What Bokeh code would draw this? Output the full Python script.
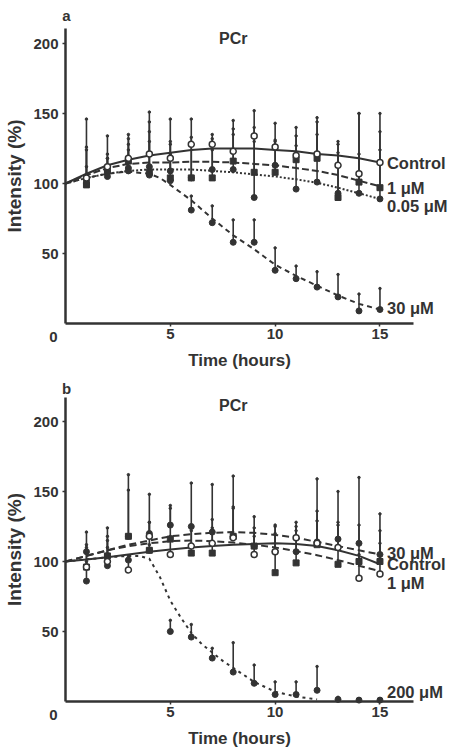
from bokeh.plotting import figure
from bokeh.models import Label, FixedTicker, Range1d, ColumnDataSource
from bokeh.layouts import column
from bokeh.embed import file_html
from bokeh.resources import INLINE

# ---------------- data ----------------
hours = [1, 2, 3, 4, 5, 6, 7, 8, 9, 10, 11, 12, 13, 14, 15]
fit_hours = [0, 1, 2, 3, 4, 5, 6, 7, 8, 9, 10, 11, 12, 13, 14, 15]

# panel a
a_ctrl = [104, 112, 118, 121, 118, 128, 128, 123, 134, 126, 120, 121, 113, 107, 115]
a_ctrl_top = [126, 121, 132, 137, 130, 146, 135, 139, 152, 131, 127, 144, 122, 150, 150]
a_ctrl_fit = [100, 107, 113, 117, 120, 122, 124, 125, 125, 125, 124, 123, 121, 120, 118, 115]

a_1um = [99, 110, 116, 108, 104, 104, 104, 116, 108, 108, 117, 118, 90, 101, 97]
a_1um_top = [146, 134, 128, 151, 146, 133, 132, 145, 140, 143, 140, 147, 130, 121, 137]
a_1um_fit = [100, 106, 111, 114, 115, 115, 115.5, 115.5, 115, 114, 113, 111, 109, 106, 102, 98]

a_005 = [102, 108, 111, 112, 109, 104, 110, 110, 90, 113, 96, 101, 93, 93, 89]
a_005_top = [124, 118, 135, 144, 128, 129, 124, 135, 130, 130, 134, 135, 128, 150, 124]
a_005_fit = [100, 104, 107, 109, 110, 110, 110, 109, 108, 106.5, 105, 103, 100.5, 97, 93, 89]

a_30 = [100, 105, 109, 106, 102, 81, 72, 58, 58, 38, 32, 26, 19, 9, 10]
a_30_top = [112, 118, 124, 130, 121, 91, 84, 74, 74, 54, 41, 37, 35, 21, 25]
a_30_fit_hours = [0, 1, 2, 3, 4, 4.5, 5, 6, 7, 8, 9, 10, 11, 12, 13, 14, 15]
a_30_fit = [100, 104, 107, 108.5, 107, 104, 99, 88, 75, 63, 53, 42, 34, 27, 20, 14, 10]

# panel b
b_30 = [107, 104, 118, 120, 126, 125, 121, 118, 111, 107, 107, 114, 116, 113, 105]
b_30_top = [121, 124, 162, 148, 140, 156, 155, 161, 132, 125, 128, 159, 150, 160, 134]
b_30_fit = [100, 104, 108, 112, 115, 118, 119.5, 120.5, 121, 120.5, 119, 117, 114, 111, 108, 105]

b_ctrl = [96, 104, 118, 108, 116, 106, 106, 118, 111, 92, 99, 112, 98, 100, 100]
b_ctrl_top = [112, 118, 151, 128, 138, 126, 130, 139, 124, 126, 122, 136, 128, 126, 122]
b_ctrl_fit = [100, 101.5, 103, 105, 107, 108.5, 110, 111, 112, 112.5, 113, 112.5, 111, 108, 104, 98]

b_1um = [96, 100, 94, 118, 105, 111, 113, 117, 105, 107, 117, 113, 110, 88, 91]
b_1um_top = [110, 115, 101, 128, 118, 122, 124, 138, 118, 120, 125, 129, 126, 105, 113]
b_1um_fit = [100, 104, 108, 111, 113, 114.5, 115, 114.5, 113.5, 112, 110, 107.5, 104.5, 101, 97, 93]

b_200 = [86, 97, 101, 108, 50, 46, 31, 21, 13, 5, 5, 8, 1.5, 1, 1]
b_200_top = [100, 110, 104, 112, 58, 55, 38, 42, 26, 14, 14, 25, 3, 2, 2]
b_200_fit_hours = [0, 1, 2, 3, 3.5, 4, 4.5, 5, 5.5, 6, 6.5, 7, 7.5, 8, 9, 10, 11, 12]
b_200_fit = [100, 101.5, 103, 104, 104, 102, 89, 72, 60, 49, 41, 35, 29, 24, 14, 7, 3.5, 1.5]

y_ticks = [50, 100, 150, 200]
x_ticks = [5, 10, 15]
x_axis_end = 16.6

INK = "#333333"
FONT = "Liberation Sans"

FIG_W = 450
ORIGIN_X = 65
PX_X = 348 / 16.6   # pixels per hour
PX_Y = 1.4          # pixels per percent


def make_panel(letter, height, origin_from_top, axis_top_px, xlabel_standoff, letter_dy, title_dy):
    # frame covers the whole canvas; axes are pinned to the data origin
    y_top = (origin_from_top - axis_top_px) / PX_Y
    p = figure(width=FIG_W, height=height, output_backend="svg", toolbar_location=None,
               x_range=Range1d(-ORIGIN_X / PX_X, (FIG_W - ORIGIN_X) / PX_X),
               y_range=Range1d(-(height - origin_from_top) / PX_Y, origin_from_top / PX_Y),
               min_border=0)
    p.outline_line_color = None
    p.grid.visible = False
    xa, ya = p.xaxis[0], p.yaxis[0]
    xa.fixed_location = 0
    ya.fixed_location = 0
    xa.bounds = (0, x_axis_end)
    ya.bounds = (0, y_top)
    for ax in (xa, ya):
        ax.axis_line_color = INK
        ax.axis_line_width = 2.5
        ax.major_tick_line_color = INK
        ax.major_tick_line_width = 1.5
        ax.major_tick_out = 3
        ax.major_tick_in = 0
        ax.minor_tick_line_color = None
        ax.major_label_text_font = FONT
        ax.major_label_text_font_size = "15px"
        ax.major_label_text_font_style = "bold"
        ax.major_label_text_color = INK
        ax.axis_label_text_font = FONT
        ax.axis_label_text_font_style = "bold"
        ax.axis_label_text_color = INK
    xa.ticker = FixedTicker(ticks=x_ticks)
    ya.ticker = FixedTicker(ticks=y_ticks)
    xa.major_label_standoff = 2
    ya.major_label_standoff = 4
    xa.axis_label = "Time (hours)"
    ya.axis_label = "Intensity (%)"
    xa.axis_label_text_font_size = "17px"
    ya.axis_label_text_font_size = "19px"
    xa.axis_label_standoff = xlabel_standoff
    ya.axis_label_standoff = 5
    p.add_layout(Label(x=0, y=0, x_offset=-12, y_offset=-13, text="0", text_font=FONT,
                       text_font_size="15px", text_font_style="bold", text_color=INK,
                       text_align="center", text_baseline="middle"))
    p.add_layout(Label(x=0, y=y_top, x_offset=1, y_offset=letter_dy, text=letter, text_font=FONT,
                       text_font_size="15px", text_font_style="bold", text_color=INK,
                       text_align="center", text_baseline="middle"))
    p.add_layout(Label(x=8.0, y=y_top, y_offset=title_dy, text="PCr", text_font=FONT,
                       text_font_size="16px", text_font_style="bold", text_color=INK,
                       text_align="center", text_baseline="middle"))
    return p


def add_fit(p, xs, ys, dash, width=2.0):
    p.line(xs, ys, line_color=INK, line_width=width, line_dash=dash)


def add_series(p, ys, tops, kind):
    src = ColumnDataSource(dict(x=hours, y=ys, top=tops))
    p.segment(x0="x", y0="y", x1="x", y1="top", source=src, line_color=INK, line_width=1.6)
    p.scatter(x="x", y="top", source=src, size=2.5, color=INK)
    if kind == "open":
        p.scatter(x="x", y="y", source=src, marker="circle", size=6, fill_color="white",
                  line_color=INK, line_width=1.5)
    elif kind == "square":
        p.scatter(x="x", y="y", source=src, marker="square", size=6, fill_color=INK,
                  line_color=INK)
    else:
        p.scatter(x="x", y="y", source=src, marker="circle", size=6, fill_color=INK,
                  line_color=INK)


def add_name(p, y, text):
    p.add_layout(Label(x=15, y=y, x_offset=7, text=text, text_font=FONT,
                       text_font_size="16.5px", text_font_style="bold", text_color=INK,
                       text_align="left", text_baseline="middle"))


# ---------------- panel a ----------------
pa = make_panel("a", 376, 323, 28, 9, 13, -10)
add_fit(pa, fit_hours, a_ctrl_fit, "solid")
add_fit(pa, fit_hours, a_1um_fit, "7 3")
add_fit(pa, fit_hours, a_005_fit, "2 2")
add_fit(pa, a_30_fit_hours, a_30_fit, "5 4")
add_series(pa, a_005, a_005_top, "filled")
add_series(pa, a_1um, a_1um_top, "square")
add_series(pa, a_30, a_30_top, "filled")
add_series(pa, a_ctrl, a_ctrl_top, "open")
add_name(pa, 115, "Control")
add_name(pa, 97, "1 \u03bcM")
add_name(pa, 84, "0.05 \u03bcM")
add_name(pa, 11, "30 \u03bcM")

# ---------------- panel b ----------------
pb = make_panel("b", 374, 325, 21, 9, 9, -8)
add_fit(pb, fit_hours, b_ctrl_fit, "solid")
add_fit(pb, fit_hours, b_30_fit, "7 4")
add_fit(pb, fit_hours, b_1um_fit, "7 4")
add_fit(pb, b_200_fit_hours, b_200_fit, "3 4")
add_series(pb, b_ctrl, b_ctrl_top, "square")
add_series(pb, b_200, b_200_top, "filled")
add_series(pb, b_30, b_30_top, "filled")
add_series(pb, b_1um, b_1um_top, "open")
add_name(pb, 106, "30 \u03bcM")
add_name(pb, 98, "Control")
add_name(pb, 85, "1 \u03bcM")
add_name(pb, 6.5, "200 \u03bcM")

layout = column(pa, pb, spacing=0)
open("out.html", "w").write(file_html(layout, INLINE))
